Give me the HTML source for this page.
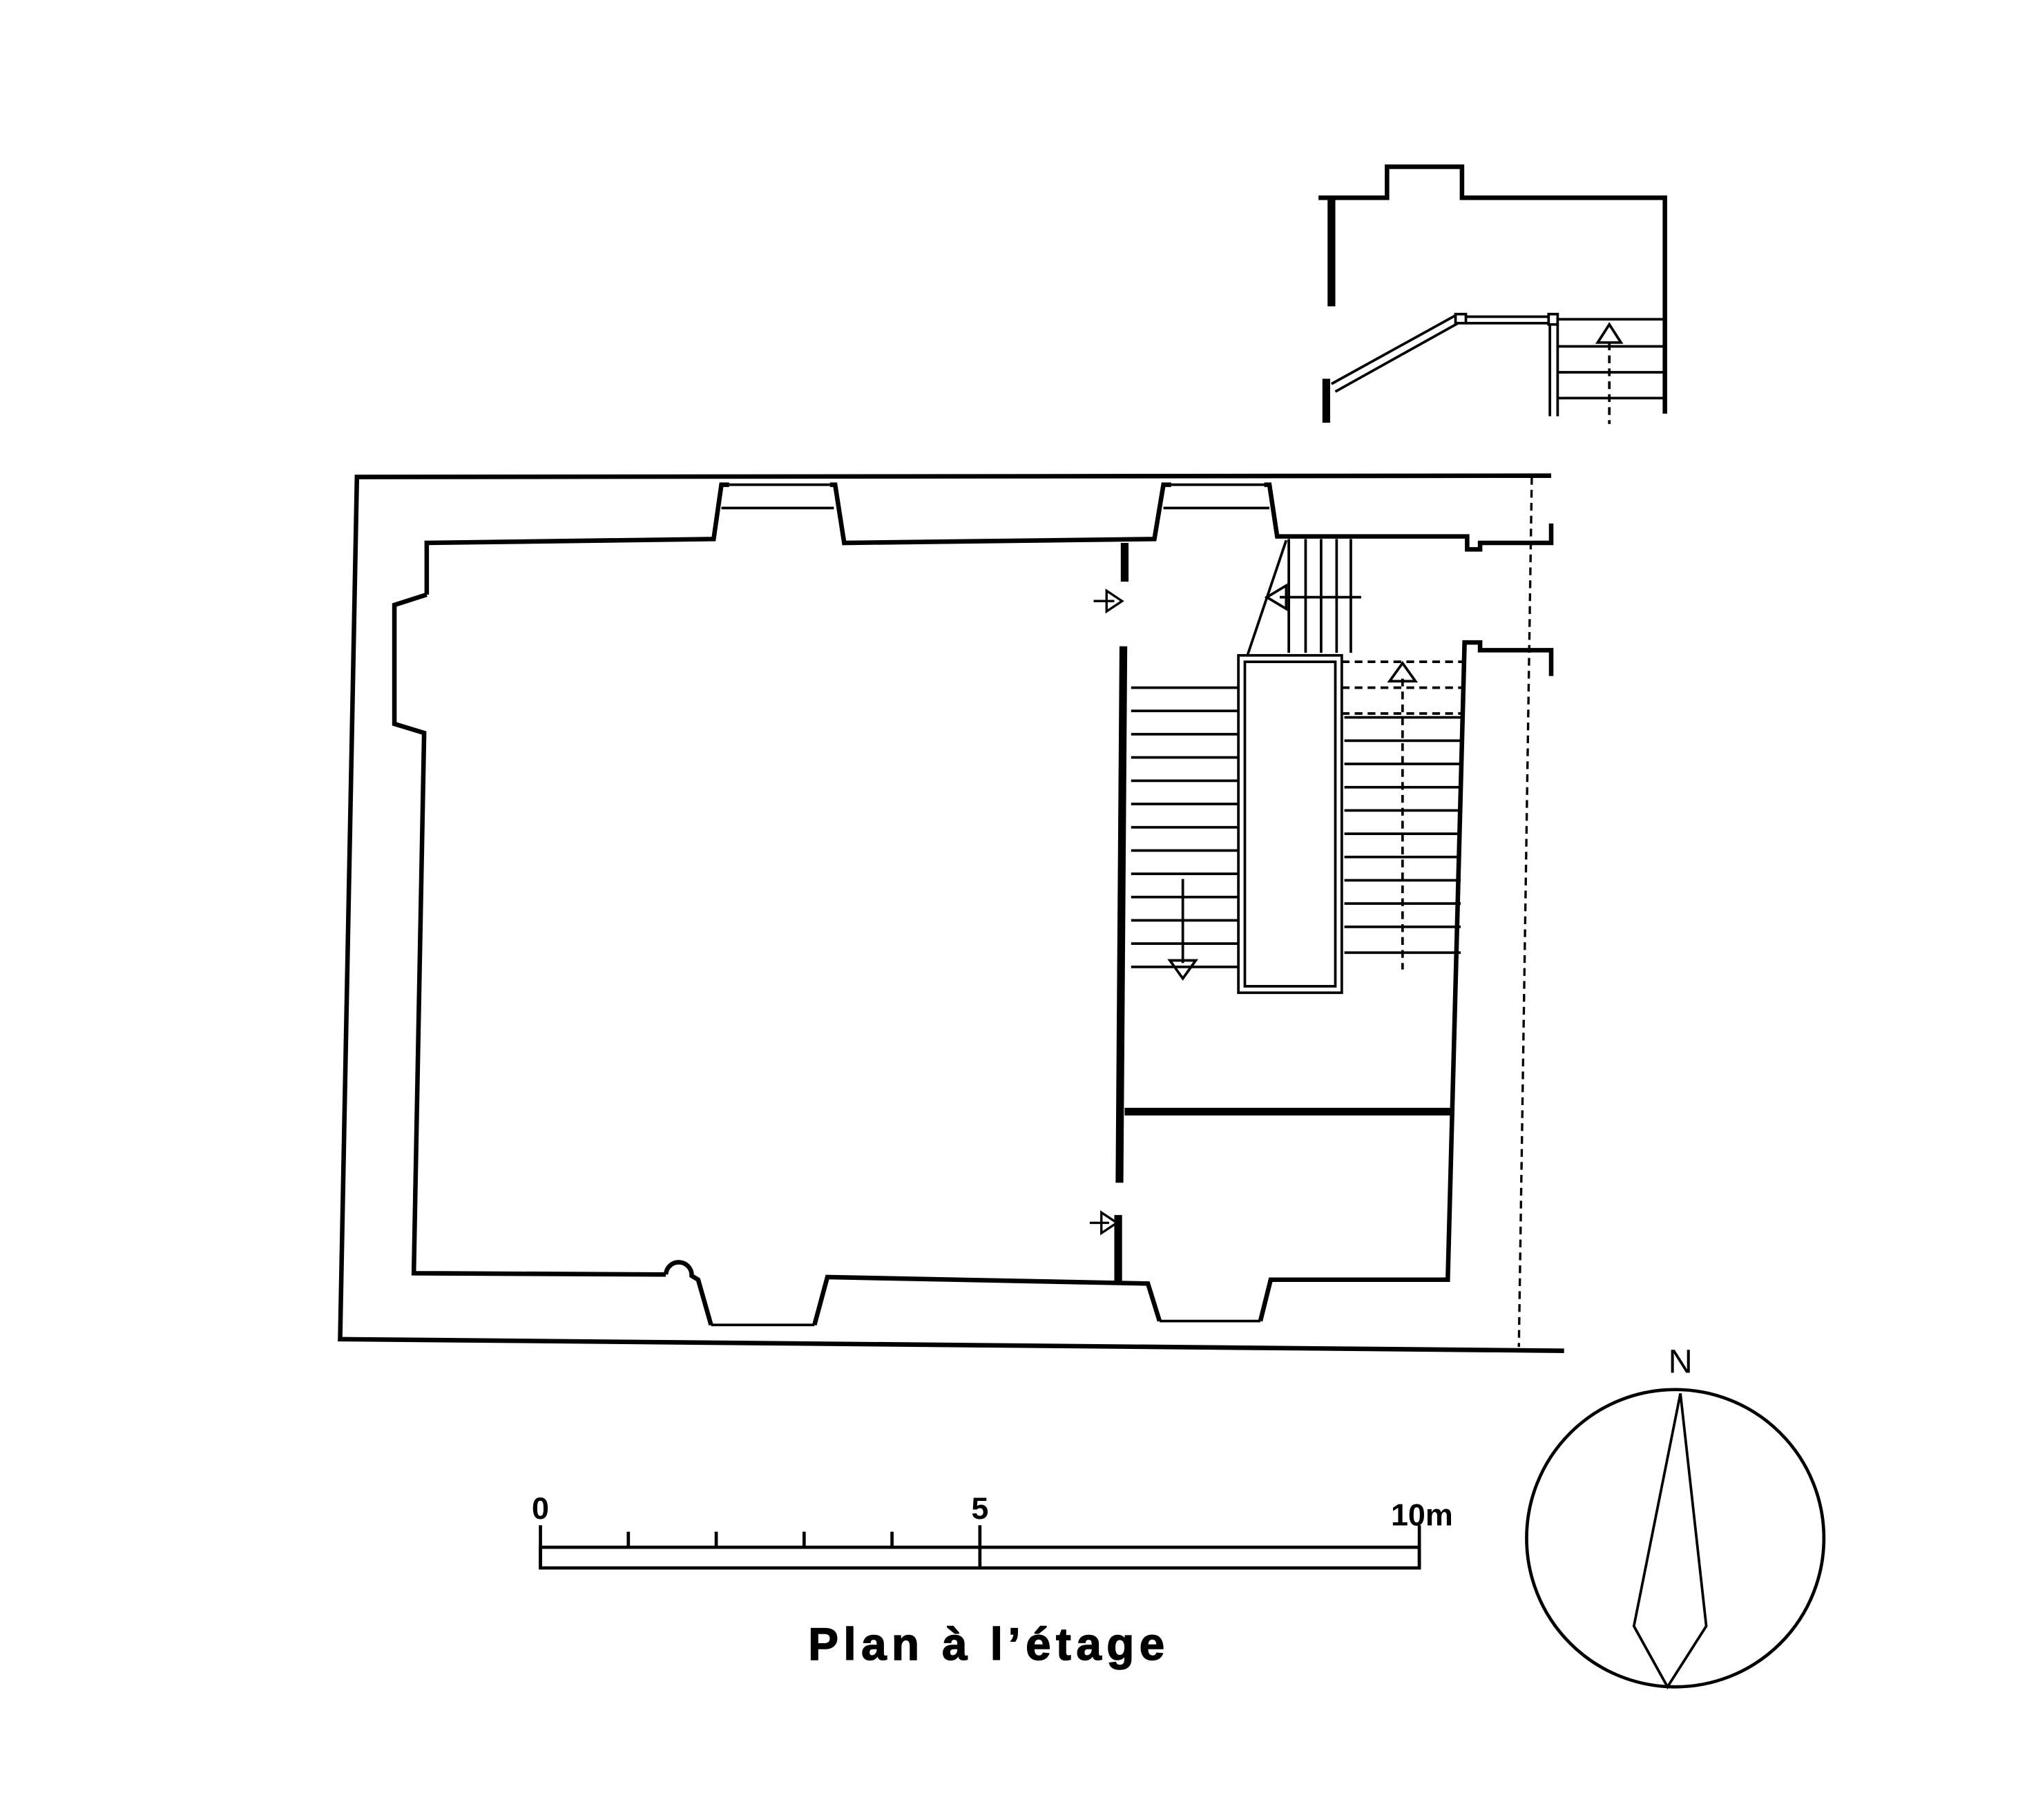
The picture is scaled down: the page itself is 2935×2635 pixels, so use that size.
<!DOCTYPE html>
<html><head><meta charset="utf-8"><style>html,body{margin:0;padding:0;background:#fff}svg{display:block}</style></head><body>
<svg width="2935" height="2635" viewBox="0 0 1568 1408" xmlns="http://www.w3.org/2000/svg">
<g fill="none" stroke="#000" stroke-width="3.5" stroke-linejoin="miter">
<polyline points="1200,368 276,369 263,1036 1210,1045"/>
<polyline points="330,460 330,420 552,417 558,375 564,375"/>
<line x1="564" y1="375" x2="642" y2="375" stroke-width="2"/>
<line x1="558" y1="393" x2="645" y2="393" stroke-width="2"/>
<polyline points="642,375 646,375 653,420 893,417 900,375 906,375"/>
<line x1="906" y1="375" x2="978" y2="375" stroke-width="2"/>
<line x1="900" y1="393" x2="982" y2="393" stroke-width="2"/>
<polyline points="978,375 982,375 988,415 1135,415 1135,425 1145,425 1145,420 1200,420 1200,405"/>
<polyline points="330,460 305,468 305,560 328,567 320,985 515,986"/>
<path d="M515,986 a10,10 0 1 1 20,1 L540,990 L550,1025"/>
<line x1="550" y1="1025" x2="630" y2="1025" stroke-width="2"/>
<polyline points="630,1025 640,988 888,993 897,1022"/>
<line x1="897" y1="1022" x2="975" y2="1022" stroke-width="2"/>
<polyline points="975,1022 983,990 1120,990 1133,497 1145,497 1145,503 1200,503 1200,523"/>
<line x1="1185" y1="369" x2="1175" y2="1042" stroke-width="1.8" stroke-dasharray="6,4"/>
<line x1="870" y1="420" x2="870" y2="450" stroke-width="6"/>
<line x1="869" y1="500" x2="866" y2="915" stroke-width="6"/>
<line x1="865" y1="940" x2="865" y2="992" stroke-width="6"/>
<line x1="870" y1="860" x2="1125" y2="860" stroke-width="6"/>
<g stroke-width="1.8">
<line x1="846" y1="465" x2="862" y2="465"/><polygon points="856,457 868,465 856,473"/>
<line x1="843" y1="946" x2="858" y2="946"/><polygon points="852,938 864,946 852,954"/>
</g>
<g stroke-width="2">
<path d="M875,532H958M875,550H958M875,568H958M875,586H958M875,604H958M875,622H958M875,640H958M875,658H958M875,676H958M875,694H958M875,712H958M875,730H958M875,748H958"/>
<line x1="915" y1="680" x2="915" y2="745"/>
<polygon points="905,743 925,743 915,757"/>
<rect x="958" y="507" width="80" height="261"/>
<rect x="963" y="512" width="70" height="251"/>
<path d="M1040,555H1130M1040,573H1130M1040,591H1130M1040,609H1130M1040,627H1130M1040,645H1130M1040,663H1130M1040,681H1130M1040,699H1130M1040,717H1130M1040,737H1130"/>
<line x1="1085" y1="525" x2="1085" y2="750" stroke-dasharray="6,4"/>
<polygon points="1075,527 1095,527 1085,513"/>
<path d="M1038,512H1133M1038,532H1133M1038,552H1133" stroke-dasharray="6,4"/>
<path d="M997,417V505M1010,417V505M1022,417V505M1034,417V505M1045,417V505"/>
<line x1="995" y1="418" x2="965" y2="507"/>
<line x1="990" y1="462" x2="1053" y2="462"/>
<polygon points="995,453 995,471 980,462"/>
</g>
<polyline points="1020,153 1073,153 1073,129 1131,129 1131,153 1288,153 1288,320"/>
<line x1="1030" y1="153" x2="1030" y2="237" stroke-width="6"/>
<line x1="1026" y1="293" x2="1026" y2="327" stroke-width="6"/>
<g stroke-width="2">
<path d="M1030,297 L1126,244 M1033,303 L1128,250"/>
<rect x="1126" y="243" width="8" height="7"/>
<path d="M1134,245H1198M1134,250H1198"/>
<rect x="1198" y="243" width="7" height="8"/>
<path d="M1199,251V322M1205,251V322"/>
<path d="M1205,247H1288M1205,268H1288M1205,288H1288M1205,308H1288"/>
<line x1="1245" y1="265" x2="1245" y2="328" stroke-dasharray="6,4"/>
<polygon points="1236,265 1254,265 1245,251"/>
</g>
<g stroke-width="2.5">
<rect x="418" y="1197" width="680" height="16"/>
<path d="M418,1180V1213M486,1185V1197M554,1185V1197M622,1185V1197M690,1185V1197M758,1180V1213M1098,1180V1213"/>
</g>
<circle cx="1296" cy="1190" r="115" stroke-width="2.5"/>
<polygon points="1300,1078 1320,1258 1290,1305 1264,1258" stroke-width="2"/>
</g>
<g font-family="Liberation Sans, sans-serif" font-weight="bold" fill="#000">
<text x="418" y="1175" font-size="24" text-anchor="middle">0</text>
<text x="758" y="1175" font-size="24" text-anchor="middle">5</text>
<text x="1076" y="1180" font-size="24">10m</text>
<text x="765" y="1284" font-size="35" text-anchor="middle" letter-spacing="4" stroke="#000" stroke-width="0.8">Plan à l’étage</text>
</g>
<text x="1300" y="1062" font-family="Liberation Sans, sans-serif" font-size="26" text-anchor="middle">N</text>
</svg>
</body></html>
